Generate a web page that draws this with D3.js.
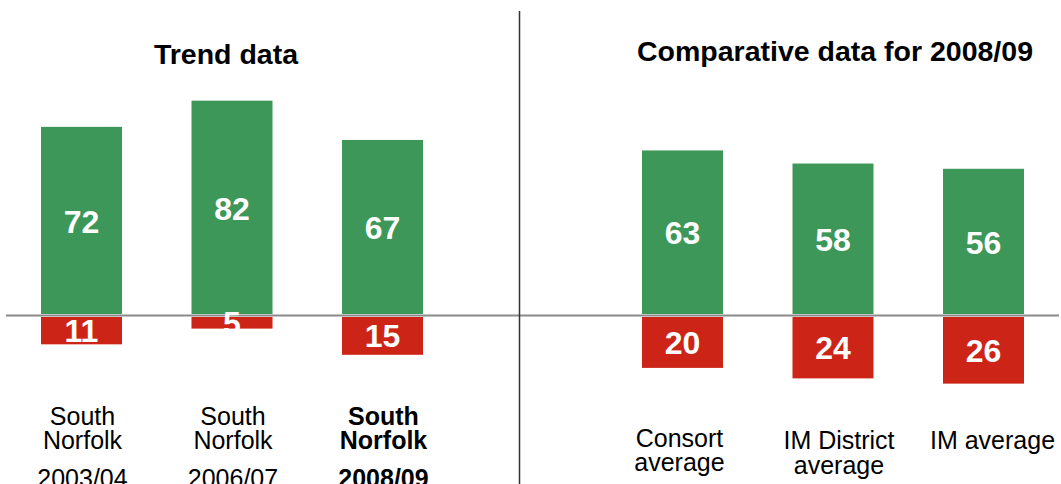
<!DOCTYPE html>
<html><head><meta charset="utf-8">
<script src="https://cdn.jsdelivr.net/npm/d3@7"></script>
<style>html,body{margin:0;padding:0;background:#fff}svg{display:block}</style>
</head><body>
<svg id="chart" width="1061" height="484"></svg>
<script>
// ---- data ----
const trendCategories = [["South","Norfolk","2003/04"],["South","Norfolk","2006/07"],["South","Norfolk","2008/09"]];
const trendPositive = [72, 82, 67];
const trendNegative = [11, 5, 15];
const compCategories = [["Consort","average"],["IM District","average"],["IM average"]];
const compPositive = [63, 58, 56];
const compNegative = [20, 24, 26];
const titles = ["Trend data", "Comparative data for 2008/09"];

// ---- layout ----
const svg = d3.select("#chart");
const font = "'Liberation Sans', Arial, sans-serif";
const green = "#3c9758", red = "#cc2417";
const y = d3.scaleLinear().domain([0, 100]).range([315.5, 53.5]);
const y0 = y(0);
const barW = 81;

// baseline
svg.append("line").attr("x1", 6).attr("x2", 1059).attr("y1", y0).attr("y2", y0)
  .attr("stroke", "#8a8a8a").attr("stroke-width", 2);
// divider
svg.append("line").attr("x1", 519.5).attr("x2", 519.5).attr("y1", 11).attr("y2", 484)
  .attr("stroke", "#333").attr("stroke-width", 1.5);

function panel(cats, pos, neg, range, boldIdx, labelTop, labelDx, lineH, gap) {
  const x = d3.scalePoint().domain(d3.range(cats.length)).range(range);
  const g = svg.append("g");
  cats.forEach((c, i) => {
    const cx = x(i);
    const vTop = y(pos[i]);
    g.append("rect").attr("x", cx - barW/2).attr("y", vTop)
      .attr("width", barW).attr("height", y0 - 1.5 - vTop).attr("fill", green);
    const nBot = y(-neg[i]);
    g.append("rect").attr("x", cx - barW/2).attr("y", y0 + 1.5)
      .attr("width", barW).attr("height", nBot - y0 - 1.5).attr("fill", red);
    g.append("text").attr("x", cx).attr("y", (vTop + y0)/2).attr("dy", "0.36em")
      .attr("text-anchor", "middle").attr("font-family", font).attr("font-weight", "bold")
      .attr("font-size", 32).attr("fill", "#fff").text(pos[i]);
    g.append("text").attr("x", cx).attr("y", (y0 + 1.5 + nBot)/2).attr("dy", "0.36em")
      .attr("text-anchor", "middle").attr("font-family", font).attr("font-weight", "bold")
      .attr("font-size", 32).attr("fill", "#fff").text(neg[i]);
    c.forEach((line, j) => {
      let ly = labelTop[i] + j * lineH[i];
      if (j === 2) ly += gap;
      g.append("text").attr("text-anchor", "middle").attr("font-family", font)
        .attr("font-size", 25).attr("fill", "#000")
        .attr("font-weight", i === boldIdx ? "bold" : "normal")
        .attr("x", cx + labelDx[i]).attr("y", ly).text(line);
    });
  });
}

panel(trendCategories, trendPositive, trendNegative, [81.5, 382.5], 2,
      [425, 425, 425], [1, 1, 1], [24, 24, 24], 14);
panel(compCategories, compPositive, compNegative, [682.5, 983.5], -1,
      [447, 449, 449], [-3, 6, 9], [24, 25, 25], 0);

svg.append("text").attr("x", 226).attr("y", 64).attr("text-anchor", "middle")
  .attr("font-family", font).attr("font-weight", "bold").attr("font-size", 28.5).text(titles[0]);
svg.append("text").attr("x", 835).attr("y", 61).attr("text-anchor", "middle")
  .attr("font-family", font).attr("font-weight", "bold").attr("font-size", 28.5).text(titles[1]);
</script>
</body></html>
